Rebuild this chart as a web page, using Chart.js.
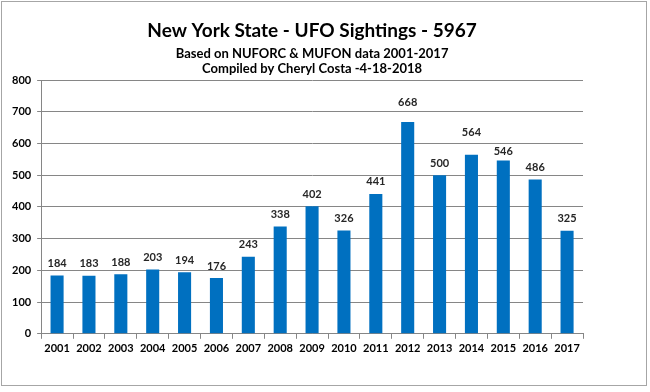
<!DOCTYPE html>
<html>
<head>
<meta charset="utf-8">
<script src="https://cdn.jsdelivr.net/npm/chart.js@4.4.0/dist/chart.umd.min.js"></script>
<style>
html,body{margin:0;padding:0;background:#fff;}
#wrap{position:absolute;left:0;top:0;width:650px;height:392px;}
#frame{position:absolute;left:1px;top:1px;width:646px;height:385px;border:1px solid #a6a6a6;box-sizing:border-box;pointer-events:none;}
</style>
</head>
<body>
<div id="wrap"><canvas id="c" width="650" height="392"></canvas><div id="frame"></div></div>
<script>
const years = ['2001','2002','2003','2004','2005','2006','2007','2008','2009','2010','2011','2012','2013','2014','2015','2016','2017'];
const sightings = [184,183,188,203,194,176,243,338,402,326,441,668,500,564,546,486,325];
const titleText = 'New York State - UFO Sightings - 5967';
const subtitleLines = ['Based on NUFORC & MUFON data 2001-2017', 'Compiled by Cheryl Costa -4-18-2018'];

const FONT = 'Lato, "Open Sans", sans-serif';

// extra lift (px) of a few value labels that were moved by hand in the original
const labelLift = { '2012': 7, '2014': 10, '2015': -3 };

const valueLabels = {
  id: 'valueLabels',
  afterDatasetsDraw(chart) {
    const ctx = chart.ctx;
    const meta = chart.getDatasetMeta(0);
    ctx.save();
    ctx.font = 'bold 11px ' + FONT;
    ctx.fillStyle = '#262626';
    ctx.textAlign = 'center';
    ctx.textBaseline = 'middle';
    meta.data.forEach((bar, i) => {
      const lift = labelLift[chart.data.labels[i]] || 0;
      ctx.fillText(String(chart.data.datasets[0].data[i]), bar.x, bar.y - 12 - lift);
    });
    ctx.restore();
  }
};

new Chart(document.getElementById('c'), {
  type: 'bar',
  data: {
    labels: years,
    datasets: [{
      data: sightings,
      backgroundColor: '#0070C0',
      borderWidth: 0,
      categoryPercentage: 1.0,
      barPercentage: 0.41
    }]
  },
  options: {
    responsive: false,
    animation: false,
    devicePixelRatio: 1,
    layout: { padding: { left: 6, right: 67, top: 0, bottom: 34 } },
    plugins: {
      legend: { display: false },
      tooltip: { enabled: false },
      title: {
        display: true,
        fullSize: false,
        text: titleText,
        color: '#000',
        font: { family: FONT, size: 19, weight: 'bold' },
        padding: { top: 19, bottom: 4 }
      },
      subtitle: {
        display: true,
        fullSize: false,
        text: subtitleLines,
        color: '#000',
        font: { family: FONT, size: 13, weight: 'bold', lineHeight: 1.2 },
        padding: { top: 0, bottom: 3 }
      }
    },
    scales: {
      x: {
        grid: { display: true, drawOnChartArea: false, drawTicks: true, tickLength: 5, color: '#868686', offset: true },
        border: { display: true, color: '#868686' },
        ticks: { color: '#000', font: { family: FONT, size: 11, weight: 'bold' }, padding: 3, maxRotation: 0, autoSkip: false }
      },
      y: {
        min: 0, max: 800,
        ticks: { stepSize: 100, color: '#000', font: { family: FONT, size: 11, weight: 'bold' }, padding: 6 },
        grid: { color: '#868686', tickLength: 4, drawTicks: true },
        border: { display: true, color: '#868686' }
      }
    }
  },
  plugins: [valueLabels]
});
</script>
</body>
</html>
